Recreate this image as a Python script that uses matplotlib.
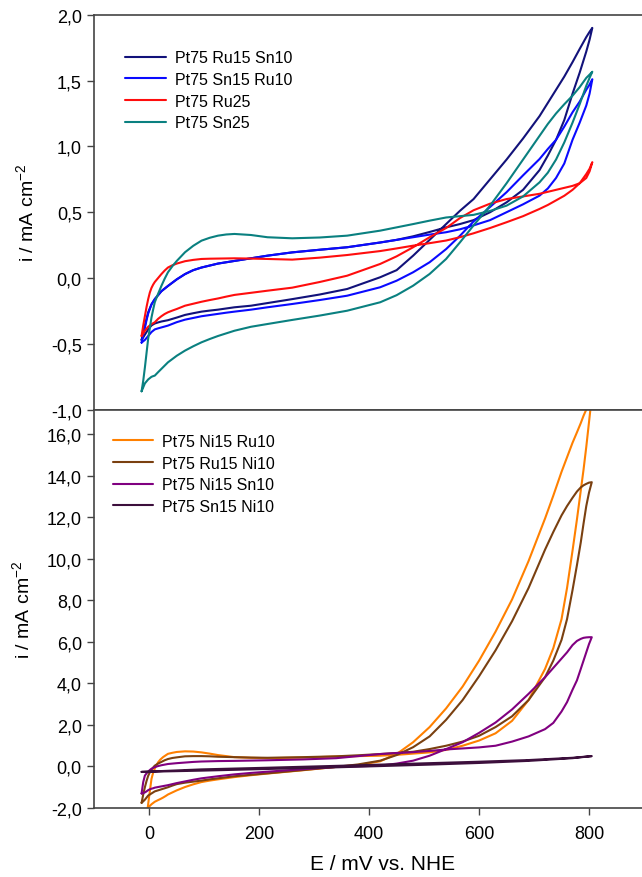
import matplotlib
matplotlib.use("Agg")
import matplotlib.pyplot as plt
from matplotlib.ticker import FuncFormatter

plt.rcParams['font.family'] = ['Liberation Sans', 'DejaVu Sans']

# ---- top panel: Pt-Ru-Sn (E in mV, i in mA cm-2) ----
e_top = [-14, -11, -8, -5, -2, 1, 4, 7, 10, 16, 22, 28, 34, 42, 50, 65, 80, 95, 110, 125,
         140, 155, 185, 215, 260, 310, 360, 420, 450, 480, 510, 540, 565, 590, 620, 650,
         680, 710, 725, 740, 755, 770, 783, 795, 801, 806]

ru15sn10_up = [-0.47, -0.41, -0.36, -0.31, -0.26, -0.23, -0.2, -0.18, -0.16, -0.13, -0.1, -0.08, -0.06, -0.035, -0.01,
               0.03, 0.06, 0.08, 0.095, 0.11, 0.12, 0.13, 0.15, 0.17, 0.195, 0.215, 0.234, 0.27, 0.29, 0.317,
               0.35, 0.385, 0.41, 0.44, 0.5, 0.575, 0.67, 0.82, 0.93, 1.05, 1.2, 1.4, 1.56, 1.72, 1.81, 1.9]
ru15sn10_dn = [-0.47, -0.45, -0.43, -0.41, -0.39, -0.375, -0.36, -0.352, -0.345, -0.337, -0.33, -0.325, -0.32, -0.31, -0.3,
               -0.28, -0.267, -0.255, -0.247, -0.24, -0.231, -0.222, -0.21, -0.19, -0.16, -0.125, -0.083, 0.006, 0.06, 0.17,
               0.29, 0.41, 0.51, 0.6, 0.75, 0.9, 1.06, 1.23, 1.33, 1.43, 1.53, 1.64, 1.74, 1.83, 1.87, 1.9]

sn15ru10_up = [-0.49, -0.43, -0.38, -0.32, -0.27, -0.235, -0.2, -0.18, -0.16, -0.13, -0.1, -0.08, -0.06, -0.035, -0.01,
               0.03, 0.06, 0.08, 0.095, 0.11, 0.12, 0.13, 0.15, 0.17, 0.195, 0.215, 0.234, 0.27, 0.29, 0.31,
               0.33, 0.348, 0.37, 0.4, 0.44, 0.5, 0.56, 0.626, 0.68, 0.76, 0.87, 1.05, 1.18, 1.31, 1.4, 1.51]
sn15ru10_dn = [-0.49, -0.48, -0.47, -0.455, -0.44, -0.425, -0.41, -0.4, -0.39, -0.382, -0.375, -0.368, -0.361, -0.348, -0.335,
               -0.316, -0.303, -0.29, -0.281, -0.272, -0.263, -0.255, -0.24, -0.222, -0.197, -0.167, -0.134, -0.07, -0.02, 0.044,
               0.12, 0.22, 0.32, 0.43, 0.54, 0.652, 0.78, 0.904, 0.98, 1.05, 1.15, 1.259, 1.34, 1.43, 1.47, 1.51]

ru25_up = [-0.44, -0.36, -0.29, -0.22, -0.16, -0.11, -0.075, -0.05, -0.03, 0.0, 0.03, 0.057, 0.08, 0.097, 0.11,
           0.128, 0.138, 0.145, 0.147, 0.148, 0.149, 0.15, 0.148, 0.145, 0.14, 0.155, 0.175, 0.205, 0.225, 0.246,
           0.265, 0.285, 0.31, 0.34, 0.38, 0.424, 0.47, 0.525, 0.555, 0.59, 0.625, 0.67, 0.72, 0.79, 0.83, 0.88]
ru25_dn = [-0.44, -0.42, -0.4, -0.385, -0.37, -0.36, -0.35, -0.343, -0.336, -0.31, -0.29, -0.273, -0.26, -0.247, -0.235,
           -0.21, -0.195, -0.18, -0.167, -0.155, -0.141, -0.128, -0.112, -0.096, -0.073, -0.03, 0.018, 0.107, 0.165, 0.234,
           0.31, 0.38, 0.455, 0.515, 0.565, 0.6, 0.62, 0.64, 0.655, 0.67, 0.685, 0.7, 0.72, 0.76, 0.81, 0.88]

sn25_up = [-0.86, -0.78, -0.68, -0.57, -0.46, -0.38, -0.3, -0.24, -0.184, -0.12, -0.06, -0.005, 0.044, 0.09, 0.13,
           0.196, 0.245, 0.284, 0.306, 0.322, 0.331, 0.335, 0.327, 0.31, 0.302, 0.308, 0.322, 0.36, 0.385, 0.41,
           0.436, 0.46, 0.47, 0.48, 0.51, 0.55, 0.62, 0.727, 0.8, 0.9, 1.03, 1.18, 1.32, 1.46, 1.52, 1.567]
sn25_dn = [-0.86, -0.83, -0.8, -0.785, -0.77, -0.76, -0.75, -0.745, -0.741, -0.715, -0.69, -0.665, -0.64, -0.615, -0.59,
           -0.551, -0.518, -0.488, -0.463, -0.44, -0.42, -0.4, -0.37, -0.349, -0.318, -0.285, -0.248, -0.184, -0.13, -0.058,
           0.031, 0.145, 0.27, 0.4, 0.55, 0.72, 0.9, 1.08, 1.17, 1.25, 1.32, 1.385, 1.45, 1.52, 1.545, 1.567]

# ---- bottom panel: Pt-Ni-X ----
e_bot = [-14, -11, -8, -5, -2, 1, 4, 7, 10, 16, 22, 28, 34, 42, 50, 65, 80, 95, 110, 125,
         155, 185, 215, 280, 340, 380, 420, 450, 480, 510, 540, 570, 600, 630, 660, 690,
         720, 735, 750, 760, 770, 778, 785, 790, 795, 800, 805]
e_ni15ru10 = [-3, -1, 1, 4, 7, 10, 13, 16, 20, 25, 30, 34, 42, 50, 65, 80, 95, 110, 125,
              155, 185, 215, 280, 340, 380, 420, 450, 480, 510, 540, 570, 600, 630, 660, 690,
              720, 735, 750, 760, 770, 778, 785, 790, 795, 800, 805]

ni15ru10_up = [-2.03, -1.6, -1.2, -0.6, -0.3, -0.1, 0.06, 0.2, 0.33, 0.45, 0.54, 0.61, 0.66, 0.7, 0.73,
               0.72, 0.68, 0.62, 0.55, 0.45, 0.42, 0.4, 0.43, 0.48, 0.5, 0.52, 0.56, 0.62, 0.68, 0.8,
               1.0, 1.25, 1.6, 2.2, 3.2, 4.7, 5.7, 7.1, 8.6, 10.4, 11.9, 13.3, 14.3, 15.4, 16.6, 17.8]
ni15ru10_dn = [-2.03, -1.95, -1.9, -1.82, -1.76, -1.7, -1.66, -1.62, -1.57, -1.5, -1.42, -1.35, -1.25, -1.15, -0.99,
               -0.86, -0.75, -0.68, -0.62, -0.51, -0.42, -0.34, -0.18, -0.02, 0.07, 0.25, 0.6, 1.17, 1.9, 2.8,
               3.85, 5.1, 6.5, 8.05, 9.9, 11.95, 13.05, 14.2, 14.9, 15.6, 16.1, 16.55, 16.9, 17.2, 17.5, 17.8]

ru15ni10_up = [-1.75, -1.35, -1.0, -0.7, -0.45, -0.28, -0.15, -0.05, 0.04, 0.14, 0.22, 0.3, 0.36, 0.41, 0.44,
               0.49, 0.5, 0.5, 0.49, 0.47, 0.45, 0.43, 0.42, 0.45, 0.49, 0.54, 0.6, 0.65, 0.71, 0.84,
               1.0, 1.2, 1.48, 1.9, 2.42, 3.2, 4.3, 5.1, 6.1, 7.1, 8.5, 9.7, 10.8, 11.7, 12.55, 13.2, 13.7]
ru15ni10_dn = [-1.75, -1.68, -1.6, -1.5, -1.4, -1.35, -1.3, -1.25, -1.2, -1.15, -1.1, -1.05, -1.0, -0.92, -0.85,
               -0.78, -0.73, -0.68, -0.62, -0.57, -0.47, -0.4, -0.33, -0.17, -0.02, 0.1, 0.28, 0.55, 0.93, 1.45,
               2.25, 3.2, 4.35, 5.6, 7.0, 8.6, 10.45, 11.3, 12.1, 12.55, 12.95, 13.25, 13.45, 13.55, 13.62, 13.68, 13.7]

ni15sn10_up = [-1.3, -0.75, -0.44, -0.33, -0.25, -0.17, -0.11, -0.07, -0.03, 0.02, 0.06, 0.09, 0.12, 0.14, 0.16,
               0.19, 0.22, 0.24, 0.25, 0.26, 0.27, 0.285, 0.3, 0.34, 0.4, 0.5, 0.6, 0.65, 0.69, 0.75,
               0.82, 0.87, 0.92, 1.0, 1.2, 1.45, 1.8, 2.1, 2.65, 3.1, 3.7, 4.15, 4.7, 5.1, 5.5, 5.9, 6.23]
ni15sn10_dn = [-1.3, -1.28, -1.25, -1.2, -1.14, -1.1, -1.07, -1.05, -1.02, -0.99, -0.96, -0.93, -0.9, -0.85, -0.8,
               -0.72, -0.64, -0.57, -0.52, -0.47, -0.38, -0.31, -0.25, -0.13, -0.02, 0.01, 0.04, 0.14, 0.28, 0.52,
               0.84, 1.17, 1.62, 2.12, 2.75, 3.5, 4.3, 4.75, 5.2, 5.5, 5.85, 6.05, 6.15, 6.2, 6.22, 6.23, 6.23]

e_sn15ni10 = [-14, 95, 215, 340, 420, 510, 600, 690, 770, 805]
sn15ni10_up = [-0.26, -0.14, -0.06, 0.03, 0.09, 0.16, 0.23, 0.31, 0.42, 0.5]
sn15ni10_dn = [-0.26, -0.2, -0.12, -0.04, 0.02, 0.09, 0.17, 0.27, 0.4, 0.5]

top_series = [
    ("Pt75 Ru15 Sn10", e_top, ru15sn10_up, ru15sn10_dn, "#12127a"),
    ("Pt75 Sn15 Ru10", e_top, sn15ru10_up, sn15ru10_dn, "#0a0aff"),
    ("Pt75 Ru25", e_top, ru25_up, ru25_dn, "#ff0d0d"),
    ("Pt75 Sn25", e_top, sn25_up, sn25_dn, "#0a8080"),
]
bot_series = [
    ("Pt75 Ni15 Ru10", e_ni15ru10, ni15ru10_up, ni15ru10_dn, "#ff8000"),
    ("Pt75 Ru15 Ni10", e_bot, ru15ni10_up, ru15ni10_dn, "#7a4010"),
    ("Pt75 Ni15 Sn10", e_bot, ni15sn10_up, ni15sn10_dn, "#800080"),
    ("Pt75 Sn15 Ni10", e_sn15ni10, sn15ni10_up, sn15ni10_dn, "#3c0f3c"),
]

comma = FuncFormatter(lambda v, p: f"{v:.1f}".replace('.', ','))
spine_col = "#444444"

fig = plt.figure(figsize=(6.42, 8.78), dpi=100)
# axes run on past the right edge of the figure, as in the original
ax1 = fig.add_axes([0.1469, 0.5322, 0.899, 0.4499])
ax2 = fig.add_axes([0.1469, 0.0786, 0.899, 0.4533])


def draw(ax, series):
    # each CV is one closed loop: anodic branch out, the other branch back
    for name, e, i_a, i_b, col in series:
        xs = list(e) + list(e)[::-1]
        ys = list(i_a) + list(i_b)[::-1]
        ax.plot(xs, ys, color=col, lw=1.5, label=name,
                solid_joinstyle='round', solid_capstyle='round')
    ax.set_xlim(-100, 950)
    ax.set_xticks([0, 200, 400, 600, 800])
    ax.spines['right'].set_visible(False)
    for s in ax.spines.values():
        s.set_color(spine_col)
        s.set_linewidth(1.2)
    ax.tick_params(direction='out', length=5, width=1.0, color=spine_col,
                   labelsize=13, pad=4)
    ax.tick_params(axis='x', pad=7)
    ax.yaxis.set_major_formatter(comma)
    ax.set_ylabel("i / mA cm$^{\\mathregular{-2}}$", fontsize=14, labelpad=9)


draw(ax1, top_series)
ax1.set_ylim(-1.0, 2.0)
ax1.set_yticks([-1.0, -0.5, 0.0, 0.5, 1.0, 1.5, 2.0])
ax1.tick_params(axis='x', labelbottom=False)
ax1.legend(loc='upper left', bbox_to_anchor=(0.053, 0.910), frameon=False,
           fontsize=11.5, handlelength=2.6, handletextpad=0.55,
           labelspacing=0.42, borderpad=0, borderaxespad=0)

draw(ax2, bot_series)
ax2.set_ylim(-2.0, 17.18)
ax2.set_yticks(range(-2, 17, 2))
ax2.set_xlabel("E / mV vs. NHE", fontsize=15, labelpad=9)
ax2.legend(loc='upper left', bbox_to_anchor=(0.0325, 0.940), frameon=False,
           fontsize=11.5, handlelength=2.5, handletextpad=0.55,
           labelspacing=0.42, borderpad=0, borderaxespad=0)

fig.savefig("out.png", dpi=100)
